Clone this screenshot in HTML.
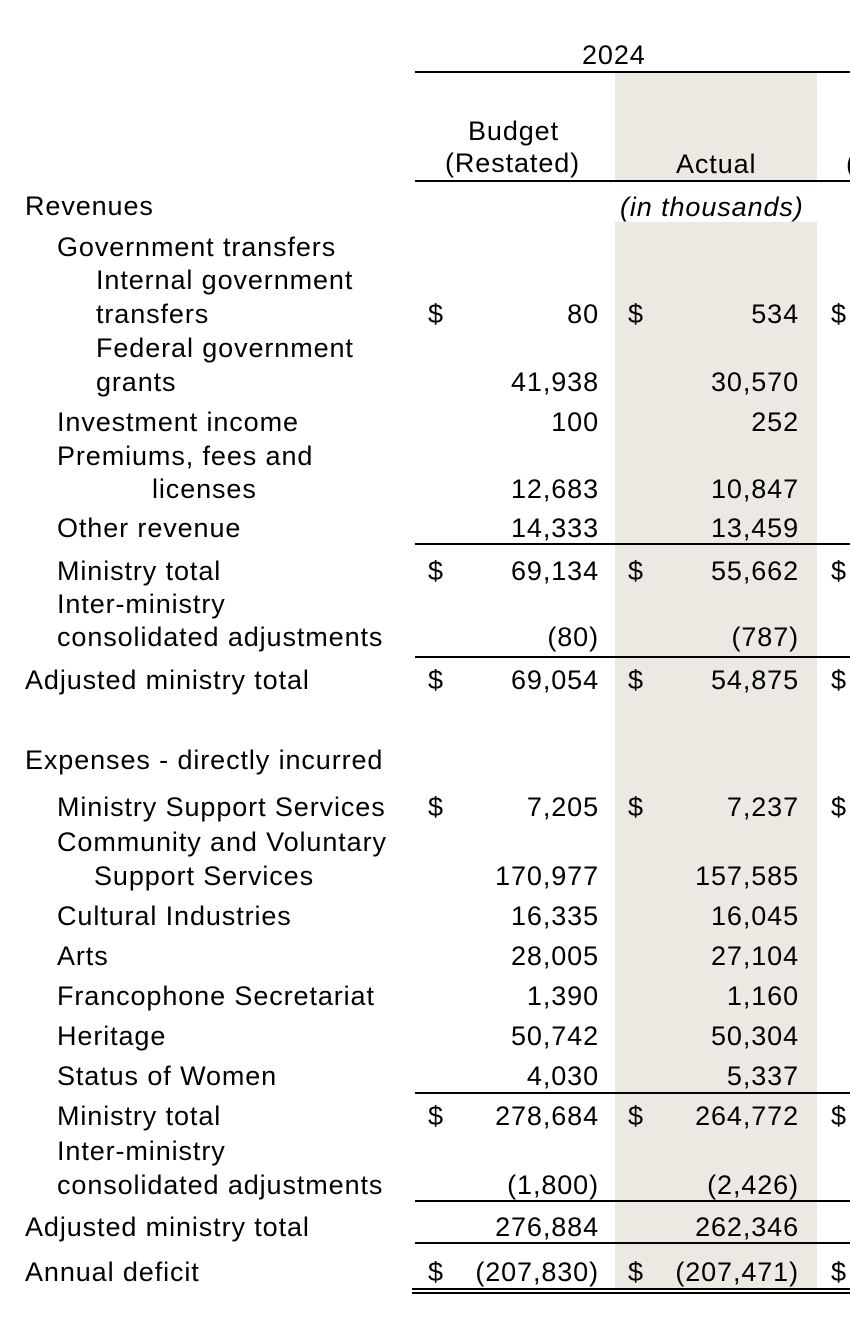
<!DOCTYPE html>
<html><head><meta charset="utf-8">
<style>
html,body{margin:0;padding:0;background:#fff;}
#page{position:relative;width:850px;height:1324px;overflow:hidden;font-family:"Liberation Sans",Arial,sans-serif;font-size:27px;letter-spacing:0.9px;color:#000;}
.t{position:absolute;white-space:nowrap;line-height:30px;height:30px;}
.r{text-align:right;}
.shade{position:absolute;background:#ece9e2;}
.ln{position:absolute;background:#000;height:2px;}
</style></head><body>
<div id="page">
<div class="shade" style="left:615px;top:73px;width:202px;height:108px"></div>
<div class="shade" style="left:615px;top:222px;width:202px;height:1068px"></div>
<div class="ln" style="left:415px;top:71px;width:435px"></div>
<div class="ln" style="left:415px;top:180px;width:435px"></div>
<div class="ln" style="left:415px;top:543px;width:435px"></div>
<div class="ln" style="left:415px;top:656px;width:435px"></div>
<div class="ln" style="left:415px;top:1092px;width:435px"></div>
<div class="ln" style="left:415px;top:1200px;width:435px"></div>
<div class="ln" style="left:415px;top:1242px;width:435px"></div>
<div class="ln" style="left:412px;top:1288px;width:438px"></div>
<div class="ln" style="left:412px;top:1292px;width:438px"></div>
</div>
<script>
const rows = [
 ["2024",null,582,55],
 ["Budget",null,468,131],["(Restated)",null,445,163],["Actual",null,676,164],
 ["Revenues",null,25,206],["(in thousands)",null,620,207,"i"],
 ["Government transfers",null,57,247],
 ["Internal government",null,96,280],["transfers",null,96,314],
 ["Federal government",null,96,348],["grants",null,96,382],
 ["Investment income",null,57,422],
 ["Premiums, fees and",null,57,456],["licenses",null,152,489],
 ["Other revenue",null,57,528],
 ["Ministry total",null,57,571],
 ["Inter-ministry",null,57,604],["consolidated adjustments",null,57,637],
 ["Adjusted ministry total",null,25,680],
 ["Expenses - directly incurred",null,25,760],
 ["Ministry Support Services",null,57,807],
 ["Community and Voluntary",null,57,842],["Support Services",null,94,876],
 ["Cultural Industries",null,57,916],["Arts",null,57,956],
 ["Francophone Secretariat",null,57,996],["Heritage",null,57,1036],
 ["Status of Women",null,57,1076],["Ministry total",null,57,1116],
 ["Inter-ministry",null,57,1151],["consolidated adjustments",null,57,1185],
 ["Adjusted ministry total",null,25,1227],["Annual deficit",null,25,1272]
];
const budget = [[314,"80",1],[382,"41,938"],[422,"100"],[489,"12,683"],[528,"14,333"],[571,"69,134",1],[637,"(80)"],[680,"69,054",1],
 [807,"7,205",1],[876,"170,977"],[916,"16,335"],[956,"28,005"],[996,"1,390"],[1036,"50,742"],[1076,"4,030"],[1116,"278,684",1],[1185,"(1,800)"],[1227,"276,884"],[1272,"(207,830)",1]];
const actual = [[314,"534",1],[382,"30,570"],[422,"252"],[489,"10,847"],[528,"13,459"],[571,"55,662",1],[637,"(787)"],[680,"54,875",1],
 [807,"7,237",1],[876,"157,585"],[916,"16,045"],[956,"27,104"],[996,"1,160"],[1036,"50,304"],[1076,"5,337"],[1116,"264,772",1],[1185,"(2,426)"],[1227,"262,346"],[1272,"(207,471)",1]];
const page = document.getElementById('page');
function mk(text,x,y,right){
 const d=document.createElement('div');
 d.className='t'+(right?' r':'');
 d.textContent=text;
 if(right){d.style.right=(850-x)+'px';d.style.letterSpacing='0.9px';d.style.marginRight='-1px';}else{d.style.left=x+'px';}
 d.style.top=(y-15)+'px';
 page.appendChild(d);
 return d;
}
rows.forEach(r=>{
 const d=mk(r[0],r[2],r[3],false);
 if(r[4]==="i") d.style.fontStyle='italic';
 
 
});
budget.forEach(b=>{
 const d=mk(b[1],598,b[0],true);
 
 
 if(b[2]){
  const s=mk("$",428,b[0],false);
  
  
  const s2=mk("$",831,b[0],false);
  
  
 }
});
actual.forEach(a=>{
 const d=mk(a[1],798,a[0],true);
 
 
 if(a[2]){
  const s=mk("$",628,a[0],false);
  
  
 }
});
const p=mk("(",846,164,false);


</script>
</body></html>
